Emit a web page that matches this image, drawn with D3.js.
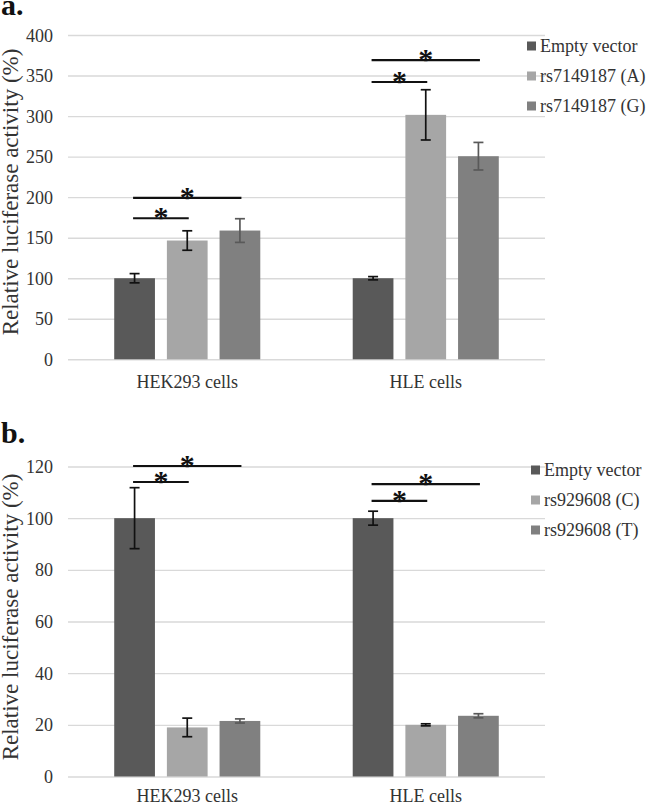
<!DOCTYPE html>
<html>
<head>
<meta charset="utf-8">
<script src="https://cdn.jsdelivr.net/npm/d3@7"></script>
<style>
  html, body { margin: 0; padding: 0; background: #fff; }
  svg { display: block; }
</style>
</head>
<body>
<svg id="chart" width="646" height="804"></svg>
<script>
// ---------- data ----------
const categories = ["HEK293 cells", "HLE cells"];

// Panel a
const seriesA = ["Empty vector", "rs7149187 (A)", "rs7149187 (G)"];
const emptyA = [100, 100];
const alleleA_A = [146.5, 301.5];
const alleleA_G = [158.8, 250.5];
const emptyAErr = [5.7, 2];
const alleleA_AErr = [12, 31];
const alleleA_GErr = [14.6, 17];
const ticksA = [0, 50, 100, 150, 200, 250, 300, 350, 400];
// significance brackets: [categoryIndex, fromSeries, toSeries, level]
const sigA = [[0, 0, 1, 174], [0, 0, 2, 199], [1, 0, 1, 342], [1, 0, 2, 369]];

// Panel b
const seriesB = ["Empty vector", "rs929608 (C)", "rs929608 (T)"];
const emptyB = [100, 100];
const alleleB_C = [19, 20];
const alleleB_T = [21.5, 23.5];
const emptyBErr = [11.8, 2.7];
const alleleB_CErr = [3.6, 0.4];
const alleleB_TErr = [0.8, 0.8];
const ticksB = [0, 20, 40, 60, 80, 100, 120];
const sigB = [[0, 0, 1, 114], [0, 0, 2, 120.2], [1, 0, 1, 106.7], [1, 0, 2, 113.2]];

const yTitle = "Relative luciferase activity (%)";

// ---------- styles ----------
const FONT = "'Liberation Serif', Tinos, 'Times New Roman', 'DejaVu Serif', serif";
const barColors = ["#595959", "#a6a6a6", "#808080"];
const errColors = ["#111111", "#111111", "#595959"];
const textColor = "#333333";

const svg = d3.select("#chart").attr("font-family", FONT);

function panel(opts) {
  const g = svg.append("g");
  const left = 68, right = 545;
  const x0 = d3.scaleBand().domain(categories).range([left, right]).padding(0);
  const x1 = d3.scaleBand().domain([0, 1, 2]).range([0, x0.bandwidth()])
    .paddingInner(0.227).paddingOuter(0.8775);
  const y = d3.scaleLinear().domain(opts.domain).range([opts.bottom, opts.top]);

  // gridlines + tick labels
  const yAxis = d3.axisLeft(y).tickValues(opts.ticks)
    .tickSize(-(right - left)).tickPadding(15).tickFormat(d3.format("d"));
  const ya = g.append("g").attr("transform", `translate(${left},0)`).call(yAxis)
    .attr("font-family", FONT);
  ya.select(".domain").remove();
  ya.selectAll(".tick line").attr("stroke", "#d9d9d9").attr("stroke-width", 1.4);
  ya.selectAll(".tick text").attr("fill", textColor)
    .style("font-size", "18px").style("font-family", FONT)
    .attr("dy", "0.34em");

  // category axis
  const xAxis = d3.axisBottom(x0).tickSize(0).tickPadding(opts.catPad);
  const xa = g.append("g").attr("transform", `translate(0,${opts.bottom})`).call(xAxis)
    .attr("font-family", FONT);
  xa.select(".domain").remove();
  xa.selectAll(".tick text").attr("fill", textColor)
    .style("font-size", "18px").style("font-family", FONT);

  // bars
  const rows = [];
  opts.values.forEach((vals, s) => {
    vals.forEach((v, c) => rows.push({ s, c, v, e: opts.errors[s][c] }));
  });
  const bx = d => x0(categories[d.c]) + x1(d.s);
  g.append("g").selectAll("rect").data(rows).join("rect")
    .attr("x", bx)
    .attr("width", x1.bandwidth())
    .attr("y", d => y(d.v))
    .attr("height", d => y(0) - y(d.v))
    .attr("fill", d => barColors[d.s]);

  // error bars
  const eg = g.append("g").selectAll("g").data(rows).join("g")
    .attr("stroke", d => errColors[d.s]).attr("stroke-width", 1.7);
  const cx = d => bx(d) + x1.bandwidth() / 2;
  eg.append("line").attr("x1", cx).attr("x2", cx)
    .attr("y1", d => y(d.v + d.e)).attr("y2", d => y(d.v - d.e));
  eg.append("line").attr("x1", d => cx(d) - 5).attr("x2", d => cx(d) + 5)
    .attr("y1", d => y(d.v + d.e)).attr("y2", d => y(d.v + d.e));
  eg.append("line").attr("x1", d => cx(d) - 5).attr("x2", d => cx(d) + 5)
    .attr("y1", d => y(d.v - d.e)).attr("y2", d => y(d.v - d.e));

  // significance brackets
  const sg = g.append("g").selectAll("g").data(opts.sig).join("g");
  const sx = (c, s) => x0(categories[c]) + x1(s) + x1.bandwidth() / 2;
  sg.append("line")
    .attr("x1", d => sx(d[0], d[1]) - 1.5)
    .attr("x2", d => sx(d[0], d[2]) + 1.5)
    .attr("y1", d => y(d[3])).attr("y2", d => y(d[3]))
    .attr("stroke", "#111").attr("stroke-width", 2.2);
  sg.append("text")
    .attr("x", d => (sx(d[0], d[1]) + sx(d[0], d[2])) / 2)
    .attr("y", d => y(d[3]) + 9)
    .attr("text-anchor", "middle")
    .style("font-size", "30px").style("font-weight", "bold").style("font-family", FONT)
    .attr("fill", "#111")
    .text("*");

  // y title
  g.append("text")
    .attr("transform", `translate(18,${opts.titleY}) rotate(-90)`)
    .attr("text-anchor", "middle")
    .style("font-size", "23px").style("font-family", FONT)
    .attr("fill", textColor)
    .text(yTitle);

  // panel label
  g.append("text")
    .attr("x", 1).attr("y", opts.labelY)
    .style("font-size", "30px").style("font-weight", "bold").style("font-family", FONT)
    .attr("fill", "#111")
    .text(opts.label);

  // legend
  const lg = g.append("g").selectAll("g").data(opts.series).join("g")
    .attr("transform", (d, i) => `translate(${opts.legX},${opts.legY + i * 30})`);
  lg.append("rect").attr("x", 0).attr("y", -4.5).attr("width", 9).attr("height", 9)
    .attr("fill", (d, i) => barColors[i]);
  lg.append("text").attr("x", 13).attr("dy", "0.34em")
    .style("font-size", "18px").style("font-family", FONT)
    .attr("fill", textColor).text(d => d);
}

panel({
  domain: [0, 400], top: 35, bottom: 359.3, ticks: ticksA,
  values: [emptyA, alleleA_A, alleleA_G],
  errors: [emptyAErr, alleleA_AErr, alleleA_GErr],
  sig: sigA, series: seriesA, catPad: 16,
  titleY: 192, label: "a.", labelY: 15,
  legX: 527, legY: 46
});

panel({
  domain: [0, 120], top: 466.5, bottom: 776.5, ticks: ticksB,
  values: [emptyB, alleleB_C, alleleB_T],
  errors: [emptyBErr, alleleB_CErr, alleleB_TErr],
  sig: sigB, series: seriesB, catPad: 13,
  titleY: 617, label: "b.", labelY: 443,
  legX: 531, legY: 470
});
</script>
</body>
</html>
